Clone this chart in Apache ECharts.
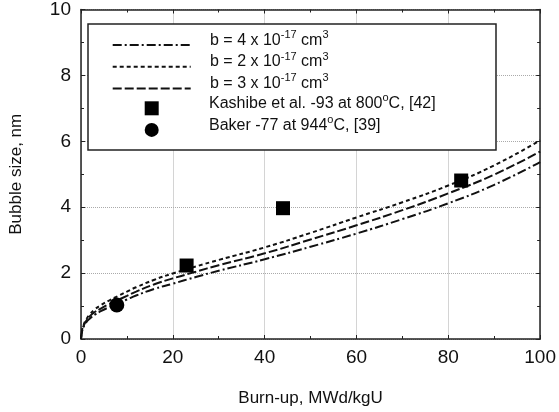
<!DOCTYPE html>
<html>
<head>
<meta charset="utf-8">
<script src="https://cdn.jsdelivr.net/npm/echarts@6/dist/echarts.min.js"></script>
<style>
html,body{margin:0;padding:0;background:#fff;}
#c{width:559px;height:412px;}
</style>
</head>
<body>
<div id="c"></div>
<script>
// ---- data ----
const burnup = [0,0.25,0.5,1,2,3,4,6,8,10,12,16,20,25,30,40,50,60,70,80,90,100];
const sizeB4 = [0,0.24,0.34,0.48,0.63,0.74,0.82,0.96,1.08,1.2,1.32,1.52,1.68,1.88,2.07,2.42,2.8,3.2,3.64,4.12,4.68,5.37];
const sizeB2 = [0,0.28,0.4,0.56,0.76,0.9,1.0,1.16,1.3,1.44,1.57,1.8,1.99,2.2,2.4,2.78,3.22,3.69,4.15,4.66,5.27,6.03];
const sizeB3 = [0,0.26,0.37,0.52,0.7,0.82,0.9,1.05,1.18,1.31,1.44,1.66,1.84,2.04,2.24,2.6,3.02,3.45,3.91,4.42,4.99,5.69];
const kashibeX = [23, 44, 82.8];
const kashibeY = [2.23, 3.97, 4.81];
const bakerX = [7.8];
const bakerY = [1.03];
const xTicks = {min: 0, max: 100, interval: 20};
const yTicks = {min: 0, max: 10, interval: 2};

const seriesNames = ['b4', 'b2', 'b3', 'kashibe', 'baker'];
const legendLabels = {
  b4: '{n|b = 4 x 10}{s|-17}{n| cm}{s|3}',
  b2: '{n|b = 2 x 10}{s|-17}{n| cm}{s|3}',
  b3: '{n|b = 3 x 10}{s|-17}{n| cm}{s|3}',
  kashibe: '{n|Kashibe et al. -93 at 800}{s|o}{n|C, [42]}',
  baker: '{n|Baker -77 at 944}{s|o}{n|C, [39]}'
};

const pair = (xs, ys) => xs.map((x, i) => [x, ys[i]]);
const FONT = '"Liberation Sans", Arial, sans-serif';

const richStyle = {
  n: {fontSize: 16, lineHeight: 19, verticalAlign: 'bottom', fontFamily: FONT, color: '#111'},
  s: {fontSize: 11, lineHeight: 11, verticalAlign: 'top', fontFamily: FONT, color: '#111'}
};

function lineSeries(name, ys, dash) {
  return {
    name: name, type: 'line', data: pair(burnup, ys),
    showSymbol: false, symbol: 'none', smooth: 0.5,
    lineStyle: {color: '#111', width: 2, type: dash},
    itemStyle: {color: '#111'},
    z: 2
  };
}

const axisCommon = {
  type: 'value',
  axisLine: {show: true, onZero: false, lineStyle: {color: '#222', width: 1.5}},
  axisTick: {show: true, inside: true, length: 4, lineStyle: {color: '#222', width: 1}},
  minorTick: {show: true, splitNumber: 2, length: 3, lineStyle: {color: '#222', width: 1}},
};

const chart = echarts.init(document.getElementById('c'), null, {renderer: 'canvas'});
chart.setOption({
  backgroundColor: '#fff',
  animation: false,
  grid: {left: 79, right: 17, top: 9, bottom: 69, containLabel: false},
  xAxis: [
    Object.assign({}, axisCommon, {
      position: 'bottom', min: xTicks.min, max: xTicks.max, interval: xTicks.interval,
      splitLine: {show: true, lineStyle: {color: '#aaa', type: 'dotted', width: 1}},
      axisLabel: {fontSize: 19, color: '#111', margin: 9, fontFamily: FONT},
      name: 'Burn-up, MWd/kgU', nameLocation: 'middle', nameGap: 51,
      nameTextStyle: {fontSize: 17, color: '#111', fontFamily: FONT}
    }),
    Object.assign({}, axisCommon, {
      position: 'top', min: xTicks.min, max: xTicks.max, interval: xTicks.interval,
      splitLine: {show: false}, axisLabel: {show: false}
    })
  ],
  yAxis: [
    Object.assign({}, axisCommon, {
      position: 'left', min: yTicks.min, max: yTicks.max, interval: yTicks.interval,
      splitLine: {show: true, lineStyle: {color: '#aaa', type: 'dotted', width: 1}},
      axisLabel: {fontSize: 19, color: '#111', margin: 10, fontFamily: FONT},
      name: 'Bubble size, nm', nameLocation: 'middle', nameGap: 56,
      nameTextStyle: {fontSize: 17, color: '#111', fontFamily: FONT}
    }),
    Object.assign({}, axisCommon, {
      position: 'right', min: yTicks.min, max: yTicks.max, interval: yTicks.interval,
      splitLine: {show: false}, axisLabel: {show: false}
    })
  ],
  graphic: [{
    type: 'rect', z: 3, silent: true,
    shape: {x: 88, y: 24, width: 408, height: 126},
    style: {fill: '#fff', stroke: '#222', lineWidth: 1.5}
  }],
  legend: [
    {
      data: seriesNames.slice(0, 3), orient: 'vertical', left: 111.7, top: 29.2,
      padding: 0, itemGap: 0.4, itemWidth: 78, itemHeight: 14, selectedMode: false, z: 5,
      itemStyle: {color: 'rgba(0,0,0,0)', borderWidth: 0},
      formatter: n => legendLabels[n],
      textStyle: {fontFamily: FONT, fontSize: 16, color: '#111', padding: [0, 0, 12.6, 14.3], rich: richStyle}
    },
    {
      data: seriesNames.slice(3), orient: 'vertical', left: 144.7, top: 92.5,
      padding: 0, itemGap: -1.2, itemWidth: 14, itemHeight: 14, selectedMode: false, z: 5,
      formatter: n => legendLabels[n],
      textStyle: {fontFamily: FONT, fontSize: 16, color: '#111', padding: [0, 0, 12.6, 45.3], rich: richStyle}
    }
  ],
  series: [
    lineSeries('b4', sizeB4, [9, 3, 2, 3]),
    lineSeries('b2', sizeB2, [4, 3]),
    lineSeries('b3', sizeB3, [9, 3]),
    {name: 'kashibe', type: 'scatter', symbol: 'rect', symbolSize: 14,
     data: pair(kashibeX, kashibeY), itemStyle: {color: '#000', opacity: 1}, z: 3},
    {name: 'baker', type: 'scatter', symbol: 'circle', symbolSize: 15,
     data: pair(bakerX, bakerY), itemStyle: {color: '#000', opacity: 1}, z: 3}
  ]
});
</script>
</body>
</html>
